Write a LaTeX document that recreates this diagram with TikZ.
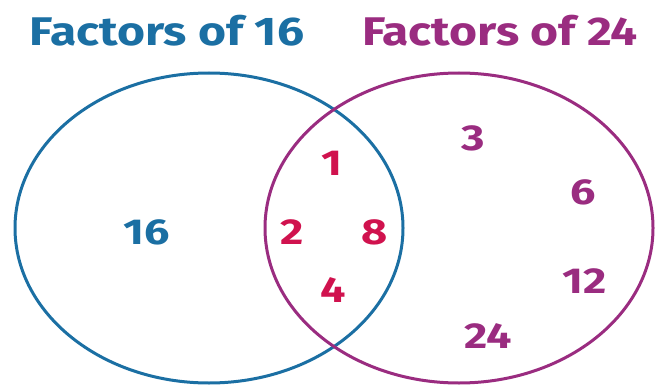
\documentclass[tikz,border=0pt]{standalone}
\usepackage{fontspec}
\setmainfont{Fira Sans}
\definecolor{vblue}{HTML}{1B6FA3}
\definecolor{vpurple}{HTML}{9A2C80}
\definecolor{vred}{HTML}{D0124E}
\begin{document}
\begin{tikzpicture}[x=1pt,y=-1pt,
  title/.style={font=\fontsize{40}{44}\selectfont\bfseries, inner sep=0pt, xscale=1.2},
  num/.style={font=\fontsize{36}{40}\selectfont\bfseries, inner sep=0pt, xscale=1.25},
  setline/.style={line width=3pt}]
\useasboundingbox (0,0) rectangle (658,385);
\draw[setline, vblue] (209,228) ellipse [x radius=194, y radius=155];
\draw[setline, vpurple] (459,228) ellipse [x radius=194, y radius=155];
\node[title, text=vblue] (t1) at (167,31) {Factors of 16};
\node[title, text=vpurple] (t2) at (500,31) {Factors of 24};
\node[num, text=vblue] (n16) at (147,232) {16};
\node[num, text=vred] (n1) at (332,163) {1};
\node[num, text=vred] (n2) at (292,232) {2};
\node[num, text=vred] (n8) at (375,232) {8};
\node[num, text=vred] (n4) at (333,290) {4};
\node[num, text=vpurple] (n3) at (473,138) {3};
\node[num, text=vpurple] (n6) at (583,192) {6};
\node[num, text=vpurple] (n12) at (585,281) {12};
\node[num, text=vpurple] (n24) at (488,336) {24};
\end{tikzpicture}
\end{document}
